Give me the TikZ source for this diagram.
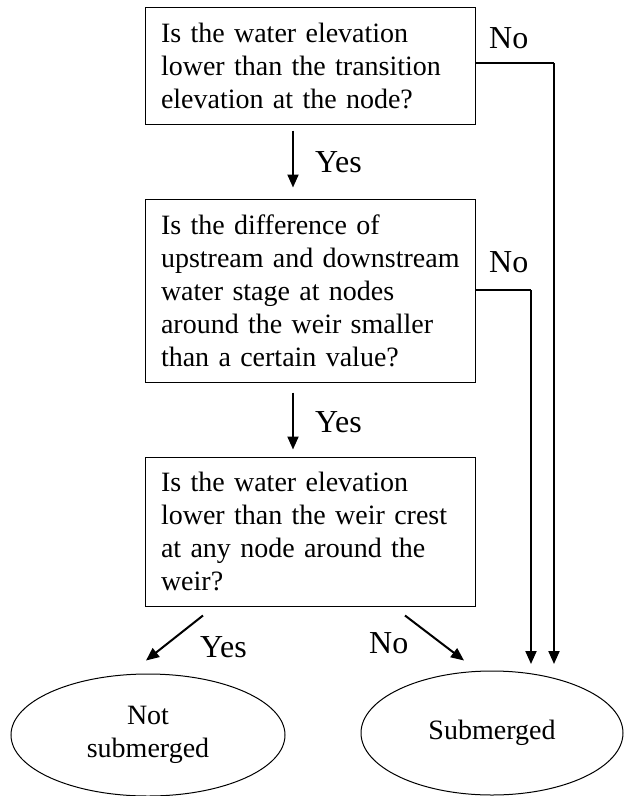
\documentclass[tikz,border=0pt]{standalone}
\usepackage{fontspec}
\setmainfont{Liberation Serif}
\usetikzlibrary{arrows.meta,calc,shapes.geometric}
\newcommand{\ind}{\hspace*{16pt}}
\newcommand{\nl}{\\\hspace*{16pt}}
\begin{document}
\begin{tikzpicture}[x=1pt,y=-1pt,
  every node/.style={font=\fontsize{28}{33}\selectfont},
  qbox/.style={draw,line width=1pt,minimum width=330pt,text width=330pt,align=left,inner xsep=0pt,inner ysep=0pt},
  endnode/.style={draw,ellipse,line width=1pt,inner sep=0pt,align=center},
  lbl/.style={anchor=base west,inner sep=0pt,font=\fontsize{32}{38}\selectfont},
  arr/.style={line width=2pt,-{Triangle[length=13pt,width=11pt]}},
  link/.style={line width=1.2pt}]
\useasboundingbox (0,0) rectangle (624,796);
\node[qbox,minimum height=117pt] (q1) at (310,65.5) {\hyphenpenalty10000 \ind Is the water elevation\nl lower than the transition\nl elevation at the node?};
\node[qbox,minimum height=183pt] (q2) at (310,290.5) {\hyphenpenalty10000 \ind Is the difference of\nl upstream and downstream\nl water stage at nodes\nl around the weir smaller\nl than a certain value?};
\node[qbox,minimum height=149pt] (q3) at (310,531.5) {\hyphenpenalty10000 \ind Is the water elevation\nl lower than the weir crest\nl at any node around the\nl weir?};
\node[endnode,minimum width=274pt,minimum height=122pt] (ns) at (148,735) {Not\\submerged};
\node[endnode,minimum width=262pt,minimum height=124pt] (sub) at (492,733) {Submerged};
\coordinate (c1) at (554,63);
\coordinate (c2) at (531,290);
\coordinate (e1) at (554,664);
\coordinate (e2) at (531,664);
\draw[arr] ($(q1.south)+(-17,6)$) -- ($(q2.north)+(-17,-11)$);
\draw[arr] ($(q2.south)+(-17,10)$) -- ($(q3.north)+(-17,-7)$);
\draw[link] (q1.east |- c1) -- (c1);
\draw[arr] (c1) -- (e1);
\draw[link] (q2.east |- c2) -- (c2);
\draw[arr] (c2) -- (e2);
\draw[arr] ($(q3.south)+(-107,9)$) -- ($(ns.north)+(-2,-13)$);
\draw[arr] ($(q3.south)+(95,9)$) -- ($(sub.north)+(-28,-10)$);
\node[lbl] (y1) at (315,172) {Yes};
\node[lbl] (n1) at (489,48) {No};
\node[lbl] (n2) at (489,272) {No};
\node[lbl] (y2) at (315,432) {Yes};
\node[lbl] (y3) at (200,657) {Yes};
\node[lbl] (n3) at (369,653) {No};
\end{tikzpicture}
\end{document}
